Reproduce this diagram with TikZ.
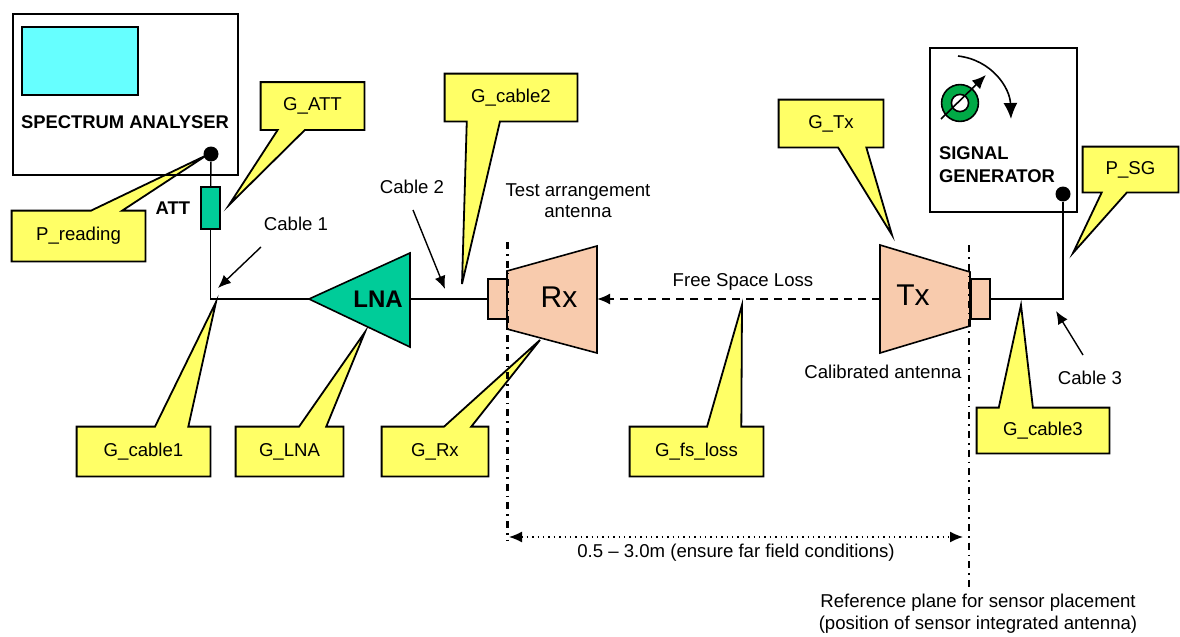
\documentclass[tikz,border=0pt]{standalone}
\usepackage{fontspec}
\setmainfont{Liberation Sans}
\usetikzlibrary{arrows.meta,calc,positioning,backgrounds}

\definecolor{noteyellow}{RGB}{255,255,102}
\definecolor{screencyan}{RGB}{102,255,255}
\definecolor{ampgreen}{RGB}{0,204,153}
\definecolor{hornpeach}{RGB}{248,203,173}
\definecolor{knobgreen}{RGB}{0,170,70}

% callout outline, tail on the top edge
\newcommand{\noteup}[4]{%
  \begin{scope}[on background layer]
  \draw[noteline] (#1.north west) -- ($(#1.north west)!#2!(#1.north east)$) -- #4
    -- ($(#1.north west)!#3!(#1.north east)$) -- (#1.north east) -- (#1.south east)
    -- (#1.south west) -- cycle;
  \end{scope}}
% callout outline, tail on the bottom edge
\newcommand{\notedown}[4]{%
  \begin{scope}[on background layer]
  \draw[noteline] (#1.south west) -- ($(#1.south west)!#2!(#1.south east)$) -- #4
    -- ($(#1.south west)!#3!(#1.south east)$) -- (#1.south east) -- (#1.north east)
    -- (#1.north west) -- cycle;
  \end{scope}}

\begin{document}
\begin{tikzpicture}[x=0.5pt,y=-0.5pt,>={Latex[length=6.5pt,width=5.5pt]},
  every node/.style={font=\fontsize{9.3}{11}\selectfont},
  note/.style={inner sep=0pt},
  boxwh/.style 2 args={minimum width=#1*0.5pt,minimum height=#2*0.5pt},
  noteline/.style={draw=black,fill=noteyellow,line width=0.9pt,line join=miter},
  devbox/.style={draw=black,line width=1pt},
  cable/.style={draw=black,line width=0.7pt},
  pointer/.style={->,line width=0.7pt},
  port/.style={circle,fill=black,inner sep=0pt,minimum size=7.5pt},
  feedbox/.style={draw=black,line width=0.8pt,fill=hornpeach,inner sep=0pt,minimum width=9.5pt,minimum height=20pt},
  horn/.style={draw=black,line width=0.8pt,fill=hornpeach},
  refplane/.style={line width=1.1pt,dash pattern=on 3.5pt off 2.5pt on 0.8pt off 2.5pt},
  bigtext/.style={font=\fontsize{15}{18}\selectfont},
  boldtext/.style={font=\bfseries\fontsize{9.2}{11.5}\selectfont}]
\useasboundingbox (0,0) rectangle (1180,637);

% spectrum analyser
\draw[devbox] (13,14) rectangle (238,175);
\draw[line width=0.8pt,fill=screencyan] (22,27) rectangle (138,95);
\node[boldtext] (salabel) at (125,122) {SPECTRUM ANALYSER};
\node[port] (sadot) at (211,154) {};
\node[draw=black,line width=0.8pt,fill=ampgreen,inner sep=0pt,boxwh={19}{42}] (att) at (210.5,208) {};
\node[boldtext,left=1.5pt of att] (attlabel) {ATT};
\coordinate (lnain) at (309,299);
\coordinate (lnaout) at (410,299);
\draw[cable] (sadot) -- (att);
\draw[cable] (att.south) |- (lnain);

% LNA
\draw[line width=0.8pt,fill=ampgreen] (lnain) -- (410,253) -- (410,347) -- cycle;
\node[font=\bfseries\fontsize{12}{14}\selectfont] (lnalabel) at (378,299) {LNA};

% receive antenna
\node[feedbox] (rxfeed) at (497.5,299) {};
\draw[horn] (507,271) -- (597,246) -- (597,353) -- (507,329) -- cycle;
\coordinate (rxap) at (597,299);
\node[bigtext] (rxlabel) at (559,297) {Rx};
\draw[cable] (lnaout) -- (rxfeed.west);

% transmit antenna
\draw[horn] (880,245) -- (970,272) -- (970,326) -- (880,353) -- cycle;
\node[feedbox] (txfeed) at (980.5,299) {};
\coordinate (txap) at (880,299);
\node[bigtext] (txlabel) at (913,295) {Tx};

% signal generator
\draw[devbox] (930,48) rectangle (1077,212);
\node[boldtext,anchor=west,align=left] (sglabel) at (932,164.5) {SIGNAL\\GENERATOR};
\draw[line width=0.8pt,fill=knobgreen,even odd rule] (960,103) circle[radius=9.2pt] (960,103) circle[radius=4.3pt];
\draw[-{Latex[length=7pt,width=6pt]},line width=0.8pt] (941,119) -- (986,75);
\draw[-{Latex[length=8pt,width=7pt]},line width=0.8pt] (958,56) .. controls (992,60) and (1010,88) .. (1011,119);
\node[port] (sgdot) at (1063,194) {};
\draw[cable] (txfeed.east) -| (sgdot);

% free space path
\draw[->,line width=1pt,dash pattern=on 4pt off 3pt] (txap) -- (rxap);
\node (fslabel) at (743,282) {Free Space Loss};

% reference planes
\coordinate (rxplanetop) at (507.5,242);
\coordinate (rxplanebot) at (507.5,540);
\coordinate (txplanetop) at (969,245);
\coordinate (txplanebot) at (969,590);
\draw[refplane] (rxplanetop) -- (rxplanebot);
\draw[refplane] (txplanetop) -- (txplanebot);
\coordinate (distl) at (509,537);
\coordinate (distr) at (963,537);
\draw[<->,dotted,line width=0.7pt] (distl) -- (distr);
\node (distlabel) at (736,553) {0.5 -- 3.0m (ensure far field conditions)};
\node[align=center,font=\fontsize{9.3}{11}\selectfont] (planelabel) at (978,614) {Reference plane for sensor placement\\(position of sensor integrated antenna)};

% cable and antenna labels
\node (cable1) at (296,224) {Cable 1};
\coordinate (cable1from) at (261,247);
\coordinate (cable1to) at (218,288);
\draw[pointer] (cable1from) -- (cable1to);
\node (cable2) at (412,187) {Cable 2};
\coordinate (cable2from) at (413,210);
\coordinate (cable2to) at (445,289);
\draw[pointer] (cable2from) -- (cable2to);
\node (cable3) at (1090,378) {Cable 3};
\coordinate (cable3from) at (1083,355);
\coordinate (cable3to) at (1056,311);
\draw[pointer] (cable3from) -- (cable3to);
\node[align=center,font=\fontsize{9.3}{10.5}\selectfont] (rxname) at (578,201) {Test arrangement\\antenna};
\node (txname) at (883,372) {Calibrated antenna};

% gain and power callouts
\node[note,boxwh={133}{50}] (preading) at (78.5,236) {P\_reading};
\noteup{preading}{0.594}{0.827}{(207,155)}
\node[note,boxwh={103}{47}] (gatt) at (312.5,106) {G\_ATT};
\notedown{gatt}{0.165}{0.427}{(229,205)}
\node[note,boxwh={132}{47}] (gcable2) at (511,97.5) {G\_cable2};
\notedown{gcable2}{0.167}{0.417}{(462,284)}
\node[note,boxwh={104}{47}] (gtx) at (831,123.5) {G\_Tx};
\notedown{gtx}{0.567}{0.837}{(892,235)}
\node[note,boxwh={95}{45}] (psg) at (1130.5,169.5) {P\_SG};
\notedown{psg}{0.2}{0.463}{(1073,253)}
\node[note,boxwh={133}{49}] (gcable1) at (143.5,451.5) {G\_cable1};
\noteup{gcable1}{0.586}{0.835}{(216,302)}
\node[note,boxwh={107}{49}] (glna) at (289.5,451.5) {G\_LNA};
\noteup{glna}{0.589}{0.841}{(365,332)}
\node[note,boxwh={106}{49}] (grx) at (435,451.5) {G\_Rx};
\noteup{grx}{0.585}{0.84}{(540,340)}
\node[note,boxwh={133}{49}] (gfsloss) at (696.5,451.5) {G\_fs\_loss};
\noteup{gfsloss}{0.579}{0.835}{(742,305)}
\node[note,boxwh={132}{45}] (gcable3) at (1043,430.5) {G\_cable3};
\noteup{gcable3}{0.167}{0.424}{(1021,305)}
\end{tikzpicture}
\end{document}
